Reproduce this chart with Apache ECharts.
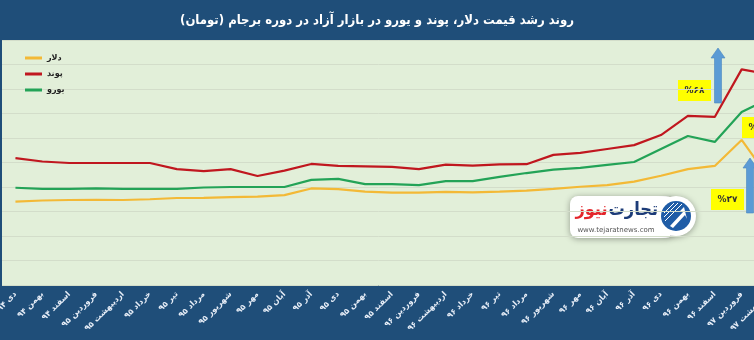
<!DOCTYPE html>
<html>
<head>
<meta charset="utf-8">
<script src="https://cdn.jsdelivr.net/npm/echarts@6/dist/echarts.min.js"></script>
<style>
  html, body { margin: 0; padding: 0; background: #1f4e79; }
  #chart { width: 754px; height: 340px; }
</style>
</head>
<body>
<div id="chart"></div>
<script>
// Months (Persian calendar), Dey 1394 through Ordibehesht 1397
const months = [
  'دی ۹۴', 'بهمن ۹۴', 'اسفند ۹۴', 'فروردین ۹۵', 'اردیبهشت ۹۵', 'خرداد ۹۵',
  'تیر ۹۵', 'مرداد ۹۵', 'شهریور ۹۵', 'مهر ۹۵', 'آبان ۹۵', 'آذر ۹۵',
  'دی ۹۵', 'بهمن ۹۵', 'اسفند ۹۵', 'فروردین ۹۶', 'اردیبهشت ۹۶', 'خرداد ۹۶',
  'تیر ۹۶', 'مرداد ۹۶', 'شهریور ۹۶', 'مهر ۹۶', 'آبان ۹۶', 'آذر ۹۶',
  'دی ۹۶', 'بهمن ۹۶', 'اسفند ۹۶', 'فروردین ۹۷', 'اردیبهشت ۹۷'
];

// Free-market prices in toman
const dollar = [
  3400, 3450, 3470, 3480, 3470, 3500, 3550, 3560, 3590, 3610,
  3670, 3940, 3910, 3810, 3770, 3770, 3800, 3780, 3810, 3850,
  3920, 4010, 4080, 4220, 4460, 4730, 4860, 5920, 4400
];
const pound = [
  5180, 5040, 4980, 4980, 4980, 4980, 4730, 4650, 4730, 4450,
  4670, 4940, 4860, 4840, 4820, 4730, 4910, 4870, 4920, 4930,
  5310, 5390, 5550, 5710, 6120, 6900, 6860, 8800, 8610
];
const euro = [
  3970, 3920, 3920, 3940, 3920, 3920, 3920, 3980, 4000, 4000,
  4000, 4290, 4330, 4120, 4120, 4080, 4240, 4240, 4410, 4570,
  4710, 4780, 4900, 5020, 5550, 6080, 5840, 7060, 7590
];

const seriesNames = ['دلار', 'پوند', 'یورو'];
const growthLabels = ['%۶۸', '%۷۸', '%۲۷'];

const FONT = 'DejaVu Sans';
const FONT_C = '"DejaVu Sans Condensed", "DejaVu Sans"';
const RLM = '\u200F';
const arrowBlue = '#5b9bd5';

const measureCtx = document.createElement('canvas').getContext('2d');
function textWidth(txt, font) {
  measureCtx.font = font;
  return measureCtx.measureText(txt).width;
}

const chart = echarts.init(document.getElementById('chart'));

function upArrow(x, top, bottom) {
  // shaft plus triangular head, pointing up
  return {
    type: 'polygon',
    z: 20,
    shape: {
      points: [
        [x - 3.5, bottom], [x - 3.5, top + 10], [x - 7, top + 10], [x, top],
        [x + 7, top + 10], [x + 3.5, top + 10], [x + 3.5, bottom]
      ]
    },
    style: { fill: arrowBlue, stroke: '#4a86c0', lineWidth: 0.6 }
  };
}

function tagBox(x, y, txt) {
  return {
    type: 'group', z: 20, x: x, y: y,
    children: [
      { type: 'rect', shape: { x: 0, y: 0, width: 33, height: 21 }, style: { fill: '#ffff00' } },
      { type: 'text', x: 16.5, y: 10.5,
        style: { text: txt, fill: '#333', font: 'bold 9px ' + FONT, textAlign: 'center', textVerticalAlign: 'middle' } }
    ]
  };
}

// white badge with the publisher mark
const brandFont = 'bold 18px ' + FONT_C;
const brandA = 'تجارت';
const brandB = 'نیوز';
const brandRight = 658;
const brandAW = textWidth(brandA, brandFont);
const logo = {
  type: 'group', z: 30,
  children: [
    { type: 'rect', shape: { x: 570, y: 196, width: 104, height: 42, r: 8 },
      style: { fill: '#ffffff', shadowBlur: 6, shadowColor: 'rgba(0,0,0,0.35)', shadowOffsetY: 1 } },
    { type: 'circle', shape: { cx: 676, cy: 216, r: 20 },
      style: { fill: '#ffffff', shadowBlur: 6, shadowColor: 'rgba(0,0,0,0.35)', shadowOffsetY: 1 } },
    { type: 'rect', shape: { x: 640, y: 197, width: 30, height: 40 }, style: { fill: '#ffffff' } },
    { type: 'circle', shape: { cx: 676, cy: 216, r: 15 }, style: { fill: '#1f5ca6' } },
    { type: 'line', shape: { x1: 664, y1: 213, x2: 674, y2: 203 }, style: { stroke: '#fff', lineWidth: 1 } },
    { type: 'line', shape: { x1: 664, y1: 217, x2: 678, y2: 203 }, style: { stroke: '#fff', lineWidth: 1 } },
    { type: 'line', shape: { x1: 665, y1: 221, x2: 682, y2: 204 }, style: { stroke: '#fff', lineWidth: 1 } },
    { type: 'polygon', shape: { points: [[670, 226], [683, 212], [679, 212], [684, 207], [687, 219], [685, 215], [673, 228]] },
      style: { fill: '#fff' } },
    { type: 'text', x: brandRight, y: 210,
      style: { text: brandA, fill: '#1d3c78', font: brandFont, textAlign: 'right', textVerticalAlign: 'middle' } },
    { type: 'text', x: brandRight - brandAW - 1, y: 210,
      style: { text: brandB, fill: '#e3262b', font: brandFont, textAlign: 'right', textVerticalAlign: 'middle' } },
    { type: 'text', x: 616, y: 230,
      style: { text: 'www.tejaratnews.com', fill: '#555', font: '7px ' + FONT, textAlign: 'center', textVerticalAlign: 'middle' } }
  ]
};

const option = {
  backgroundColor: '#1f4e79',
  animation: false,
  textStyle: { fontFamily: FONT },
  title: {
    text: RLM + 'روند رشد قیمت دلار، پوند و یورو در بازار آزاد در دوره برجام (تومان)' + RLM,
    left: 'center',
    top: 9,
    textStyle: { color: '#ffffff', fontSize: 13, fontWeight: 'bold', fontFamily: FONT_C }
  },
  legend: {
    orient: 'vertical',
    left: 20,
    top: 48,
    icon: 'rect',
    itemWidth: 17,
    itemHeight: 3,
    itemGap: 6,
    textStyle: { color: '#222', fontSize: 8, fontWeight: 'bold', lineHeight: 10, fontFamily: FONT },
    data: seriesNames
  },
  grid: {
    left: 2,
    top: 40,
    width: 780,
    height: 245,
    outerBoundsMode: 'none',
    containLabel: false,
    show: true,
    backgroundColor: '#e2efd9',
    borderWidth: 0
  },
  xAxis: {
    type: 'category',
    data: months,
    boundaryGap: true,
    axisLine: { show: false },
    axisTick: { show: false },
    axisLabel: {
      interval: 0,
      rotate: 45,
      margin: 8,
      color: '#e6edf7',
      fontSize: 8,
      fontWeight: 'bold',
      fontFamily: FONT
    }
  },
  yAxis: {
    type: 'value',
    min: 0,
    max: 10000,
    interval: 1000,
    axisLabel: { show: false },
    axisLine: { show: false },
    axisTick: { show: false },
    splitLine: { lineStyle: { color: '#d3ddca', width: 1 } }
  },
  series: [
    { name: seriesNames[0], type: 'line', data: dollar, symbol: 'none', color: '#f3b936',
      lineStyle: { width: 2.2 }, z: 3 },
    { name: seriesNames[1], type: 'line', data: pound, symbol: 'none', color: '#c0171f',
      lineStyle: { width: 2.2 }, z: 3 },
    { name: seriesNames[2], type: 'line', data: euro, symbol: 'none', color: '#23a357',
      lineStyle: { width: 2.2 }, z: 3 }
  ],
  graphic: [
    upArrow(718, 48, 103),
    tagBox(678, 80, growthLabels[0]),
    tagBox(742, 117, growthLabels[1]),
    upArrow(750, 158, 213),
    tagBox(711, 189, growthLabels[2]),
    logo
  ]
};

chart.setOption(option);
</script>
</body>
</html>
